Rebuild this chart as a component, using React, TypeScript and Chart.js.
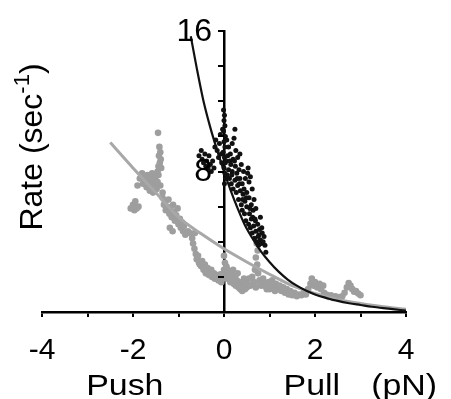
import React, { useEffect, useRef } from 'react';
import { Chart, registerables } from 'chart.js';

Chart.register(...registerables);

// ---- axis settings ----
const X_MIN = -4;
const X_MAX = 4;
const Y_MIN = 0;
const Y_MAX = 16;
const X_TICK_LABELS = [-4, -2, 0, 2, 4];
const Y_TICK_LABELS = [8, 16];
const Y_TITLE = 'Rate (sec';
const Y_TITLE_SUP = '-1';
const X_WORDS = ['Push', 'Pull', '(pN)'];
const X_WORD_POS = [-2.18, 1.93, 3.96];

// ---- black fit curve ----
const fitBlackX = [-0.73, -0.6, -0.45, -0.3, -0.15, 0, 0.15, 0.3, 0.45, 0.6, 0.8, 1.0, 1.2, 1.4, 1.6, 1.8, 2.0, 2.25, 2.5, 2.75, 3.0, 3.25, 3.5, 3.75, 4.0];
const fitBlackY = [15.7, 13.9, 12.0, 10.5, 9.2, 8.0, 6.9, 5.9, 5.0, 4.3, 3.5, 2.85, 2.3, 1.85, 1.5, 1.22, 1.0, 0.8, 0.63, 0.5, 0.4, 0.3, 0.22, 0.15, 0.08];

// ---- gray fit curve ----
const fitGrayX = [-2.5, -2.0, -1.5, -1.0, -0.5, 0, 0.5, 1.0, 1.5, 2.0, 2.5, 3.0, 3.5, 4.0];
const fitGrayY = [9.65, 8.2, 6.8, 5.4, 4.45, 3.6, 2.85, 2.15, 1.5, 1.05, 0.72, 0.48, 0.3, 0.15];

// ---- black data points ----
const blackX = [
  -0.55, -0.5, -0.48, -0.45, -0.42, -0.4, -0.38, -0.35, -0.33, -0.3, -0.28, -0.25, -0.22, -0.2, -0.18, -0.15, -0.12, -0.1, -0.08, -0.06, -0.05, -0.03,
  -0.01, 0.01, 0.0, 0.02, -0.01, 0.03, 0.0, 0.02, -0.02, 0.01, 0.03, 0.0, 0.02, 0.04, 0.01,
  0.06, 0.08, 0.1, 0.1, 0.12, 0.14, 0.15, 0.16, 0.18, 0.18, 0.2, 0.2,
  0.22, 0.24, 0.24, 0.25, 0.26, 0.27, 0.28, 0.3, 0.3, 0.32, 0.33, 0.35, 0.35, 0.36,
  0.38, 0.38, 0.4, 0.4, 0.42, 0.43, 0.44, 0.45, 0.46, 0.47, 0.48, 0.5, 0.5,
  0.52, 0.53, 0.54, 0.55, 0.55, 0.56, 0.58, 0.58, 0.6, 0.6, 0.62, 0.62, 0.64, 0.65,
  0.66, 0.67, 0.68, 0.7, 0.7, 0.72, 0.74, 0.75, 0.76, 0.78, 0.8, 0.8, 0.82, 0.84, 0.86, 0.88, 0.9, 0.92,
  0.05, 0.07, 0.13, 0.17, 0.23, 0.29, 0.34, 0.41, 0.49, 0.57, 0.63, 0.69, 0.77, 0.83
];
const blackY = [
  8.9, 9.2, 8.7, 8.5, 9.0, 8.3, 8.6, 8.2, 8.9, 8.4, 8.0, 8.6, 8.2, 9.4, 9.8, 9.2, 8.8, 9.6, 10.1, 9.0, 8.5, 10.4,
  11.5, 11.2, 10.9, 10.6, 10.3, 10.0, 9.7, 9.4, 9.1, 8.8, 8.5, 8.2, 7.9, 7.6, 7.3,
  9.8, 8.9, 9.4, 8.1, 7.6, 9.0, 8.4, 7.3, 9.6, 8.0, 7.0, 8.7,
  9.9, 10.4, 7.5, 8.3, 9.2, 6.8, 7.9, 8.8, 7.2, 6.4, 8.1, 9.0, 7.6, 6.9,
  8.4, 6.1, 7.3, 5.8, 6.7, 8.0, 7.0, 5.6, 6.3, 7.6, 5.2, 6.8, 6.0,
  7.9, 8.2, 5.0, 7.4, 6.5, 5.6, 7.7, 4.8, 6.1, 5.3, 7.0, 4.5, 5.8, 4.9,
  6.4, 4.2, 5.3, 4.6, 5.9, 4.0, 5.0, 4.3, 3.8, 4.7, 4.1, 5.4, 3.9, 4.5, 4.0, 4.3, 3.8, 3.4,
  8.6, 7.8, 8.6, 7.8, 8.6, 7.6, 7.3, 6.4, 6.5, 5.9, 5.4, 5.2, 4.4, 4.8
];

// ---- gray data points ----
const grayX = [
  -1.45, -1.42, -1.4, -1.43, -1.39, -1.41, -1.44, -1.38, -1.46,
  -1.85, -1.8, -1.78, -1.75, -1.72, -1.7, -1.68, -1.65, -1.62, -1.6, -1.58, -1.55, -1.52, -1.5, -1.48, -1.46, -1.44, -1.9, -1.63, -1.56, -1.4, -1.35,
  -2.05, -2.0, -1.97, -1.95, -1.92, -1.88,
  -1.35, -1.32, -1.3, -1.28, -1.25, -1.22, -1.2, -1.18, -1.15, -1.12, -1.1, -1.08, -1.05, -1.02, -1.0, -0.97, -0.95, -0.92, -0.9, -0.88, -0.85, -1.19, -1.13, -0.79, -0.64,
  -0.75, -0.7, -0.68, -0.65, -0.62, -0.6, -0.57, -0.55, -0.5, -0.48, -0.45, -0.42, -0.4, -0.36, -0.33, -0.3, -0.26, -0.22, -0.2, -0.16, -0.12, -0.1, -0.06, -0.03,
  0.0, 0.02, 0.0, 0.04, 0.06, 0.08, 0.1, 0.12, 0.14, 0.16, 0.18, 0.2, 0.22, 0.24, 0.26, 0.28, 0.3, 0.32, 0.34, 0.36, 0.38, 0.4, 0.42, 0.44, 0.46, 0.48, 0.5,
  0.72, 0.74, 0.7, 0.73, 0.68, 0.75, 0.62, 0.66, 0.58, 0.55, 0.7,
  0.78, 0.82, 0.86, 0.9, 0.94, 0.98, 1.02, 1.06, 1.1, 1.14, 1.18, 1.22, 1.26, 1.3, 1.34, 1.38, 1.42, 1.46, 1.5, 1.55, 1.6, 1.65,
  1.7, 1.75, 1.8, 1.85, 1.9, 1.93, 1.97, 2.0, 2.05, 2.1, 2.13, 2.18, 2.2, 2.25, 2.3, 2.35, 2.4, 2.45, 2.5, 2.55, 2.6, 2.65, 2.7, 2.74, 2.78, 2.82, 2.86, 2.9, 2.95, 3.0,
  -0.53, -0.44, -0.38, -0.28, -0.18, -0.08, 0.05, 0.15, 0.25, 0.35, 0.45, 0.52, 0.8, 0.92, 1.0, 1.12, 1.24, 1.36, 1.48
];
const grayY = [
  10.2, 9.4, 9.1, 8.9, 8.7, 8.5, 8.3, 8.2, 8.0,
  7.6, 7.9, 7.3, 7.7, 7.5, 7.1, 7.8, 7.4, 7.6, 7.2, 7.9, 7.5, 7.3, 7.7, 7.0, 7.4, 7.8, 7.2, 6.9, 6.8, 7.2, 6.8,
  5.9, 6.1, 5.8, 6.3, 5.9, 6.0,
  6.5, 6.1, 6.3, 5.8, 6.0, 6.4, 5.6, 5.9, 5.4, 6.1, 5.7, 5.2, 5.5, 5.9, 5.0, 5.3, 4.8, 5.1, 4.6, 4.9, 4.4, 4.8, 4.6, 4.6, 4.5,
  4.5, 4.2, 3.9, 3.6, 3.3, 3.0, 3.2, 2.8, 2.6, 2.9, 2.4, 2.7, 2.2, 2.5, 2.1, 2.3, 2.0, 2.2, 1.9, 2.1, 1.8, 2.0, 1.7, 1.9,
  3.2, 2.8, 2.4, 2.1, 2.5, 1.9, 2.3, 2.0, 1.7, 2.2, 1.8, 2.4, 1.6, 2.0, 1.5, 1.8, 2.2, 1.4, 1.7, 1.3, 1.6, 1.2, 1.5, 1.9, 1.3, 1.6, 1.4,
  3.9, 3.5, 3.1, 2.7, 2.4, 2.2, 2.0, 1.7, 1.5, 1.9, 1.4,
  1.8, 1.5, 1.9, 1.6, 1.3, 1.7, 1.5, 1.8, 1.4, 1.6, 1.3, 1.5, 1.2, 1.4, 1.1, 1.3, 1.0, 1.2, 0.95, 1.1, 0.9, 1.0,
  0.95, 1.1, 1.0, 1.3, 1.6, 1.9, 1.5, 1.7, 1.4, 1.6, 1.3, 1.5, 1.1, 1.0, 0.85, 0.95, 0.8, 0.9, 0.8, 0.85, 0.9, 1.1, 1.4, 1.65, 1.5, 1.3, 1.15, 1.2, 1.05, 0.95,
  2.7, 2.5, 2.3, 2.4, 2.05, 2.15, 2.6, 1.9, 2.1, 1.5, 1.7, 1.6, 1.6, 1.45, 1.3, 1.2, 1.35, 1.15, 1.05
];

const FONT = '"Liberation Sans", Arial, Helvetica, sans-serif';

const toPoints = (xs: number[], ys: number[]) => xs.map((x, i) => ({ x, y: ys[i] }));

const textPlugin = {
  id: 'extraText',
  afterDraw(chart: any) {
    const { ctx } = chart;
    const xs = chart.scales.x;
    const ys = chart.scales.y;
    ctx.save();
    ctx.fillStyle = '#000';
    const axisX = xs.getPixelForValue(0);
    // y tick marks (pointing left) from the library's own ticks
    ctx.strokeStyle = '#000';
    ctx.lineWidth = 2;
    ys.ticks.forEach((t: any) => {
      const py = Math.round(ys.getPixelForValue(t.value));
      ctx.beginPath();
      ctx.moveTo(axisX, py);
      ctx.lineTo(axisX - 6, py);
      ctx.stroke();
    });
    // y tick labels to the left of the centre axis
    ctx.font = `32px ${FONT}`;
    ctx.textAlign = 'right';
    ctx.textBaseline = 'middle';
    Y_TICK_LABELS.forEach((v) => {
      ctx.fillText(String(v), axisX - 12, ys.getPixelForValue(v) + 1);
    });
    // words under the x axis
    ctx.font = `29px ${FONT}`;
    ctx.textAlign = 'center';
    ctx.textBaseline = 'alphabetic';
    X_WORDS.forEach((w, i) => {
      const px = xs.getPixelForValue(X_WORD_POS[i]);
      ctx.save();
      ctx.translate(px, 395);
      ctx.scale(1.17, 1);
      ctx.fillText(w, 0, 0);
      ctx.restore();
    });
    // rotated y title with superscript
    const mainFont = `32px ${FONT}`;
    const supFont = `22px ${FONT}`;
    ctx.font = mainFont;
    const w1 = ctx.measureText(Y_TITLE).width;
    ctx.font = supFont;
    const w2 = ctx.measureText(Y_TITLE_SUP).width;
    ctx.font = mainFont;
    const w3 = ctx.measureText(')').width;
    const total = w1 + w2 + w3;
    ctx.translate(42, 147);
    ctx.rotate(-Math.PI / 2);
    ctx.textAlign = 'left';
    let cx = -total / 2;
    ctx.font = mainFont;
    ctx.fillText(Y_TITLE, cx, 0);
    cx += w1;
    ctx.font = supFont;
    ctx.fillText(Y_TITLE_SUP, cx, -13);
    cx += w2;
    ctx.font = mainFont;
    ctx.fillText(')', cx, 0);
    ctx.restore();
  },
};

export default function App() {
  const ref = useRef<HTMLCanvasElement | null>(null);
  useEffect(() => {
    document.body.style.margin = '0';
    const canvas = ref.current;
    if (!canvas) return;
    const chart = new Chart(canvas, {
      type: 'scatter',
      data: {
        datasets: [
          {
            label: 'black fit',
            data: toPoints(fitBlackX, fitBlackY),
            showLine: true,
            borderColor: '#111',
            borderWidth: 2.2,
            pointRadius: 0,
            cubicInterpolationMode: 'monotone',
            order: 1,
          },
          {
            label: 'black data',
            data: toPoints(blackX, blackY),
            backgroundColor: '#111',
            borderWidth: 0,
            pointRadius: 2.5,
            order: 2,
          },
          {
            label: 'gray fit',
            data: toPoints(fitGrayX, fitGrayY),
            showLine: true,
            borderColor: '#a8a8a8',
            borderWidth: 3,
            pointRadius: 0,
            cubicInterpolationMode: 'monotone',
            order: 3,
          },
          {
            label: 'gray data',
            data: toPoints(grayX, grayY),
            backgroundColor: '#9e9e9e',
            borderWidth: 0,
            pointRadius: 3.3,
            order: 4,
          },
        ],
      },
      options: {
        responsive: false,
        animation: false,
        events: [],
        layout: { padding: { left: 42, right: 45, top: 31, bottom: 14 } },
        plugins: { legend: { display: false }, tooltip: { enabled: false }, title: { display: false } },
        scales: {
          x: {
            type: 'linear',
            min: X_MIN,
            max: X_MAX,
            position: 'bottom',
            border: { display: true, color: '#000', width: 2.5 },
            grid: { drawOnChartArea: false, drawTicks: true, tickLength: 5, color: '#000', lineWidth: 2 },
            ticks: {
              stepSize: 1,
              autoSkip: false,
              maxRotation: 0,
              padding: 16,
              color: '#000',
              font: { family: FONT, size: 30 },
              callback: (v: any) => (X_TICK_LABELS.includes(Number(v)) ? String(v) : ''),
            },
          },
          y: {
            type: 'linear',
            min: Y_MIN,
            max: Y_MAX,
            position: { x: 0 } as any,
            border: { display: true, color: '#000', width: 2.5 },
            grid: { drawOnChartArea: false, drawTicks: false },
            ticks: {
              stepSize: 2,
              autoSkip: false,
              display: false,
            },
          },
        },
      },
      plugins: [textPlugin],
    });
    return () => chart.destroy();
  }, []);
  return <canvas ref={ref} width={451} height={399} style={{ display: 'block' }} />;
}
